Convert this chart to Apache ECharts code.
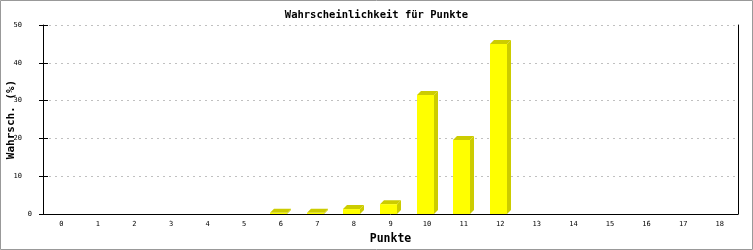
<!DOCTYPE html>
<html><head><meta charset="utf-8">
<script src="https://cdn.jsdelivr.net/npm/echarts@6/dist/echarts.min.js"></script>
<style>html,body{margin:0;padding:0;background:#fff}#c{width:753px;height:250px}</style>
</head><body><div id="c"></div>
<script>
var categories = ['0','1','2','3','4','5','6','7','8','9','10','11','12','13','14','15','16','17','18'];
var probabilities = [0,0,0,0,0,0,0.3,0.3,1.3,2.6,31.5,19.6,45.0,0,0,0,0,0,0];
var yTicks = {min:0, max:50, interval:10};
var titleText = 'Wahrscheinlichkeit für Punkte';
var xName = 'Punkte';
var yName = 'Wahrsch. (%)';

var FRONT = '#ffff00', DARK = '#cccc00';
var mono = '"DejaVu Sans Mono", "Liberation Mono", monospace';

var chart = echarts.init(document.getElementById('c'), null, {renderer:'canvas'});
var data = probabilities.map(function(v,i){return [i, v];});

function renderItem(params, api){
  var v = api.value(1);
  if (!v) return null;
  var i = api.value(0);
  var base = api.coord([i, 0]);
  var top = api.coord([i, v]);
  var bw = api.size([1, 0])[0];
  var fw = Math.round(bw * 0.46);
  var d = 4;
  var x0 = Math.round(base[0] - (fw + d) / 2);
  var x1 = x0 + fw;
  var y0 = base[1], y1 = top[1];
  return {
    type: 'group',
    children: [
      {type:'polygon', shape:{points:[[x1,y0],[x1,y1],[x1+d,y1-d],[x1+d,y0-d]]}, style:{fill:DARK}},
      {type:'polygon', shape:{points:[[x0,y1],[x1,y1],[x1+d,y1-d],[x0+d,y1-d]]}, style:{fill:DARK}},
      {type:'rect', shape:{x:x0, y:y1, width:fw, height:y0-y1}, style:{fill:FRONT}}
    ]
  };
}

var yBase = {type:'value', min:yTicks.min, max:yTicks.max, interval:yTicks.interval};

chart.setOption({
  animation:false,
  backgroundColor:'#fff',
  title:{text:titleText, left:'center', top:5, textStyle:{fontFamily:mono, fontSize:10.5, fontWeight:'bold', color:'#000'}},
  grid:{left:43, right:15, top:25, bottom:36, containLabel:false, outerBoundsMode:'none'},
  xAxis:{
    type:'category', data:categories,
    name:xName, nameLocation:'middle', nameGap:19, nameMoveOverlap:false,
    nameTextStyle:{fontFamily:mono, fontSize:11.5, fontWeight:'bold', color:'#000'},
    axisLine:{lineStyle:{color:'#000', width:1}},
    axisTick:{show:false},
    axisLabel:{fontFamily:mono, fontSize:7, color:'#000', margin:7},
    splitLine:{show:false}
  },
  yAxis:[
    Object.assign({}, yBase, {
      position:'left',
      name:yName, nameLocation:'middle', nameGap:26, nameRotate:90, nameMoveOverlap:false,
      nameTextStyle:{fontFamily:mono, fontSize:11, fontWeight:'bold', color:'#000'},
      axisLine:{show:true, lineStyle:{color:'#000', width:1}},
      axisTick:{show:true, length:4, lineStyle:{color:'#000'}},
      axisLabel:{fontFamily:mono, fontSize:7, color:'#000', margin:11,
        formatter:function(v){return v === 0 ? '{z|0}' : '{a|' + v + '}';},
        rich:{a:{fontFamily:mono, fontSize:7, color:'#000', padding:[0,10,0,0]}, z:{fontFamily:mono, fontSize:7, color:'#000'}}},
      splitLine:{show:true, lineStyle:{color:'#c0c0c0', type:[2,4], width:1}}
    }),
    Object.assign({}, yBase, {
      position:'left',
      axisLine:{show:false},
      axisTick:{show:true, inside:true, length:5, lineStyle:{color:'#000'}},
      axisLabel:{show:false},
      splitLine:{show:false}
    }),
    Object.assign({}, yBase, {
      position:'right',
      axisLine:{show:true, lineStyle:{color:'#000', width:1}},
      axisTick:{show:false},
      axisLabel:{show:false},
      splitLine:{show:false}
    })
  ],
  graphic:[{type:'rect', shape:{x:0.5, y:0.5, width:752, height:249}, style:{fill:null, stroke:'#999', lineWidth:1}, silent:true}],
  series:[{type:'custom', renderItem:renderItem, data:data, encode:{x:0, y:1}, clip:false}]
});
</script>
</body></html>
